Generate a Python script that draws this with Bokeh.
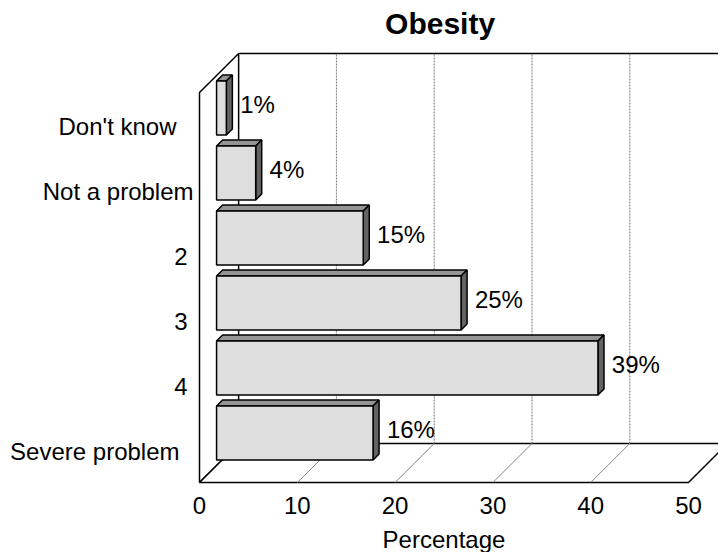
import numpy as np
from bokeh.plotting import figure
from bokeh.models import Range1d
from bokeh.core.properties import value
from bokeh.embed import file_html
from bokeh.resources import INLINE

# ---- data -------------------------------------------------------------
categories = ["Severe problem", "4", "3", "2", "Not a problem", "Don't know"]
percentages = [16, 39, 25, 15, 4, 1]
x_ticks = [0, 10, 20, 30, 40, 50]
x_tick_labels = ["0", "10", "20", "30", "40", "50"]
chart_title = "Obesity"
x_title = "Percentage"

# ---- layout of the oblique 3-D box (data units) -----------------------
X_MAX = 50
DX, DY = 4.0, 0.6          # shift from the front plane to the back wall
BAR_FRONT = 0.436          # depth fraction where the bar fronts sit
BAR_DEPTH = 0.154          # depth fraction taken up by each bar
BAR_HALF = 0.415           # half bar thickness, in category slots
LABEL_GAP = 0.8            # space between a bar and its value label
CAT_LABEL_SHIFT = [-20, -12, -12, -12, -6, -23]   # px, right edge of category labels

FONT = value("Liberation Sans")
TEXT_SIZE = "24px"

n = len(categories)

p = figure(width=718, height=552, output_backend="svg", toolbar_location=None,
           x_range=Range1d(-20.35, 53.07), y_range=Range1d(-1.077, 7.415),
           x_axis_type=None, y_axis_type=None, min_border=0)
p.outline_line_color = None
p.background_fill_color = "white"
p.border_fill_color = "white"

edge = dict(line_color="black", line_width=1.5)

# side wall and floor
p.patch([0, 0, DX, DX], [0, n, n + DY, DY], fill_color="white", **edge)
p.patch([0, X_MAX, X_MAX + DX, DX], [0, 0, DY, DY], fill_color="white", **edge)
# back wall top and right edges
p.line([DX, X_MAX + DX], [n + DY, n + DY], **edge)
p.line([X_MAX + DX, X_MAX + DX], [DY, n + DY], **edge)

# gridlines on the back wall and across the floor
inner = [t for t in x_ticks if 0 < t < X_MAX]
p.multi_line(xs=[[t + DX, t + DX] for t in inner], ys=[[DY, n + DY] for _ in inner],
             line_color="#7d7d7d", line_width=1, line_dash="2 1")
p.multi_line(xs=[[t, t + DX] for t in inner], ys=[[0, DY] for _ in inner],
             line_color="#858585", line_width=1)

# ---- bars -------------------------------------------------------------
vals = np.array(percentages, dtype=float)
idx = np.arange(n)
x0 = np.full(n, BAR_FRONT * DX)
x1 = x0 + vals
yc = idx + 0.5 + BAR_FRONT * DY
yb, yt = yc - BAR_HALF, yc + BAR_HALF
bdx, bdy = BAR_DEPTH * DX, BAR_DEPTH * DY

p.patches(xs=[[a, b, b + bdx, a + bdx] for a, b in zip(x0, x1)],
          ys=[[t, t, t + bdy, t + bdy] for t in yt],
          fill_color="#959595", **edge)
p.patches(xs=[[b, b, b + bdx, b + bdx] for b in x1],
          ys=[[lo, hi, hi + bdy, lo + bdy] for lo, hi in zip(yb, yt)],
          fill_color="#636363", **edge)
p.quad(left=x0, right=x1, bottom=yb, top=yt, fill_color="#dedede", **edge)

# value labels
p.text(x=x1 + bdx + LABEL_GAP, y=yc + bdy / 2, text=[f"{v}%" for v in percentages],
       text_align="left", text_baseline="middle", text_font=FONT,
       text_font_size=TEXT_SIZE, text_color="black")

# category labels on the front plane
p.text(x=np.zeros(n), y=idx + 0.5 - 0.03, text=categories, x_offset=CAT_LABEL_SHIFT,
       text_align="right", text_baseline="middle", text_font=FONT,
       text_font_size=TEXT_SIZE, text_color="black")

# x tick labels and axis title
p.text(x=x_ticks, y=np.full(len(x_ticks), -0.354), text=x_tick_labels,
       text_align="center", text_baseline="middle", text_font=FONT,
       text_font_size=TEXT_SIZE, text_color="black")
p.text(x=[X_MAX / 2], y=[-0.877], text=[x_title], text_align="center",
       text_baseline="middle", text_font=FONT, text_font_size=TEXT_SIZE,
       text_color="black")

# chart title
p.text(x=[X_MAX / 2 - 0.4], y=[7.057], text=[chart_title], text_align="center",
       text_baseline="middle", text_font=FONT, text_font_size="30px",
       text_font_style="bold", text_color="black")

open("out.html", "w").write(file_html(p, INLINE))
